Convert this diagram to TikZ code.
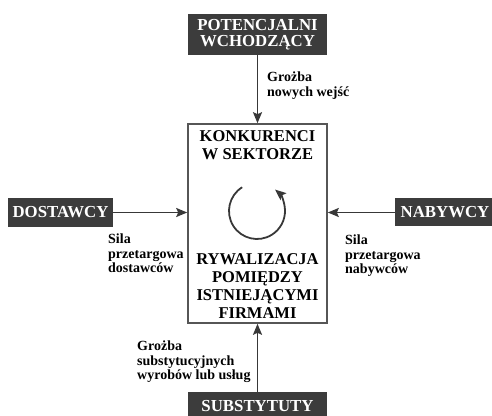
\documentclass[tikz,border=0pt]{standalone}
\usepackage{fontspec}
\setmainfont{Liberation Serif}
\usepackage{xcolor}
\usetikzlibrary{arrows.meta,positioning}
\definecolor{boxgray}{HTML}{3C3C3C}
\definecolor{linegray}{HTML}{383838}
\tikzset{forcebox/.style={fill=boxgray,text=white,inner sep=0pt,align=center,
    font=\fontsize{16.8}{16}\selectfont\bfseries},
  rivaltext/.style={inner sep=0pt,align=center,font=\fontsize{16.5}{18}\selectfont\bfseries},
  forcelabel/.style={inner sep=0pt,align=left,anchor=north west,
    font=\fontsize{14}{14.5}\selectfont\bfseries},
  force/.style={draw=linegray,line width=1.8pt,-{Stealth[length=11pt,width=9pt,inset=2pt]}}}

\begin{document}
\begin{tikzpicture}[x=1pt,y=1pt]
    \clip (0,0) rectangle (492,415);
    % centre: rivalry
    \node[draw=linegray!85,line width=1.6pt,minimum width=139pt,minimum height=199pt] (rivals) at (257.5,191.5) {};
    \node[rivaltext,below=7pt of rivals.north] (rivtop) {KONKURENCI\\W SEKTORZE};
    \node[rivaltext,above=5pt of rivals.south] (rivbottom) {RYWALIZACJA\\POMIĘDZY\\ISTNIEJĄCYMI\\FIRMAMI};
    \coordinate (cycle) at (257,204);
    \draw[force] ([shift={(122:28)}]cycle) arc[start angle=122,end angle=410,radius=28];

    % the four forces
    \node[forcebox,minimum width=139pt,minimum height=41pt] (newcomers) at (257.5,380.5) {POTENCJALNI\\WCHODZĄCY};
    \node[forcebox,minimum width=105pt,minimum height=29pt] (suppliers) at (60.5,202.5) {DOSTAWCY};
    \node[forcebox,minimum width=100pt,minimum height=28pt] (buyers) at (445,202.5) {NABYWCY};
    \node[forcebox,minimum width=139pt,minimum height=28pt] (substitutes) at (257.5,9) {SUBSTYTUTY};

    \draw[force] (newcomers) -- (rivals);
    \draw[force] (substitutes) -- (rivals);
    \draw[force] (suppliers.east) -- (suppliers.east -| rivals.west);
    \draw[force] (buyers.west) -- (buyers.west -| rivals.east);

    \node[forcelabel] (newlabel) at (267,343) {Grożba\\nowych wejść};
    \node[forcelabel] (suplabel) at (108,181) {Sila\\przetargowa\\dostawców};
    \node[forcelabel] (buylabel) at (345,180) {Sila\\przetargowa\\nabywców};
    \node[forcelabel] (sublabel) at (137,74) {Grożba\\substytucyjnych\\wyrobów lub usług};
  \end{tikzpicture}
\end{document}
